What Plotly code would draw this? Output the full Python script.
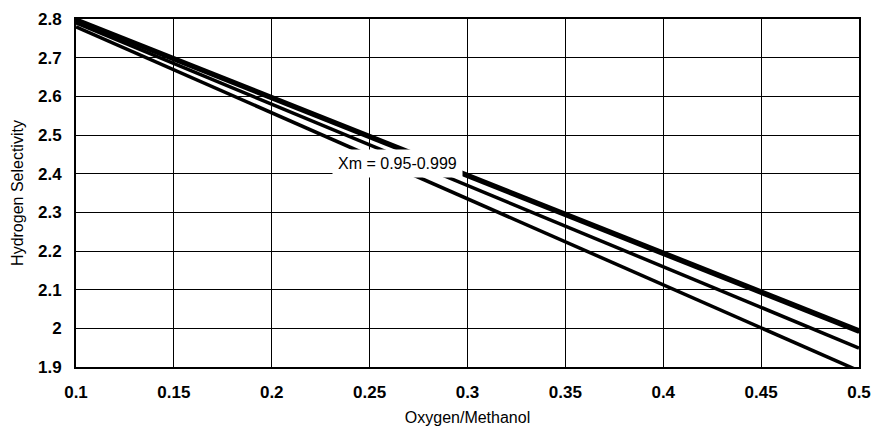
import plotly.graph_objects as go

x_vals = [0.1, 0.5]
series = {
    "Xm=0.95": [2.800, 1.996],
    "Xm=0.97": [2.795, 1.990],
    "Xm=0.99": [2.790, 1.949],
    "Xm=0.999": [2.780, 1.890],
}
x_ticks = [0.1, 0.15, 0.2, 0.25, 0.3, 0.35, 0.4, 0.45, 0.5]
x_tick_text = ["0.1", "0.15", "0.2", "0.25", "0.3", "0.35", "0.4", "0.45", "0.5"]
y_ticks = [1.9, 2.0, 2.1, 2.2, 2.3, 2.4, 2.5, 2.6, 2.7, 2.8]
y_tick_text = ["1.9", "2", "2.1", "2.2", "2.3", "2.4", "2.5", "2.6", "2.7", "2.8"]

fig = go.Figure()
for name, ys in series.items():
    fig.add_trace(go.Scatter(x=x_vals, y=ys, mode="lines", name=name,
                             line=dict(color="black", width=3.5), cliponaxis=False))

fig.add_annotation(x=0.264, y=2.427, text="Xm = 0.95-0.999", showarrow=False,
                   bgcolor="white", font=dict(size=16, color="black", family="Liberation Sans, Arial"),
                   borderpad=5)

fig.update_layout(
    width=872, height=429,
    margin=dict(l=76, r=13, t=19, b=62, autoexpand=False),
    plot_bgcolor="white", paper_bgcolor="white",
    showlegend=False,
    font=dict(family="Liberation Sans, Arial", color="black"),
)
fig.update_xaxes(range=[0.1, 0.5], tickvals=x_ticks, ticktext=x_tick_text,
                 showgrid=True, gridcolor="black", gridwidth=1,
                 showline=True, linecolor="black", linewidth=2, mirror=True,
                 ticks="", zeroline=False, automargin=False, ticklabelstandoff=9,
                 tickfont=dict(size=17, family="Liberation Sans, Arial", weight="bold"),
                 title=dict(text="Oxygen/Methanol", font=dict(size=16), standoff=10))
fig.update_yaxes(range=[1.9, 2.8], tickvals=y_ticks, ticktext=y_tick_text,
                 showgrid=True, gridcolor="black", gridwidth=1,
                 showline=True, linecolor="black", linewidth=2, mirror=True,
                 ticks="", zeroline=False, automargin=False, ticklabelstandoff=9,
                 tickfont=dict(size=17, family="Liberation Sans, Arial", weight="bold"),
                 title=dict(text="Hydrogen Selectivity", font=dict(size=16), standoff=10))

fig.write_html("out.html")
